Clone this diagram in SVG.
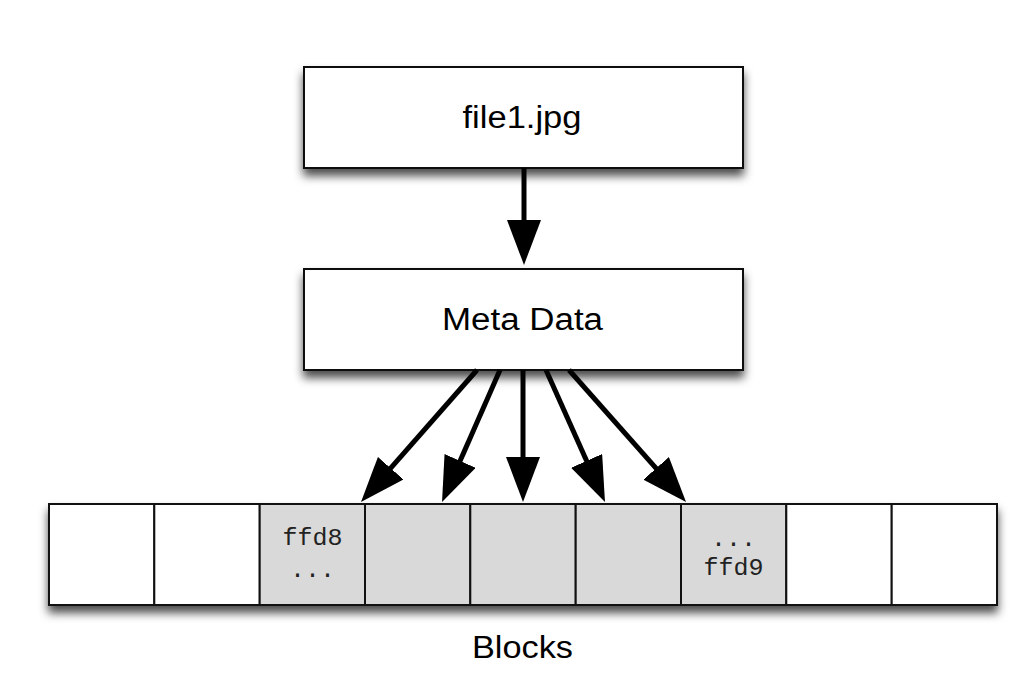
<svg xmlns="http://www.w3.org/2000/svg" width="1036" height="678" viewBox="0 0 1036 678">
<style>
.box{fill:#fff;stroke:#111;stroke-width:2}
.cell{fill:#fff;stroke:#111;stroke-width:2}
.gray{fill:#d9d9d9}
.lbl{font-family:"Liberation Sans",Arial,sans-serif;font-size:31px;fill:#000;text-anchor:middle}
.mono{font-family:"Liberation Mono","Courier New",monospace;font-size:24px;fill:#222;text-anchor:middle}
.arr{stroke:#000;stroke-width:5;fill:none;marker-end:url(#head)}
</style>
<defs>
<filter id="sh" x="-5%" y="-20%" width="110%" height="160%">
<feDropShadow dx="0" dy="7" stdDeviation="5" flood-color="#000" flood-opacity="0.7"/>
</filter>
<marker id="head" markerUnits="userSpaceOnUse" viewBox="0 0 45 34" markerWidth="45" markerHeight="34" refX="10" refY="17" orient="auto">
<path d="M0,0 L45,17 L0,34 z" fill="#000"/>
</marker>
</defs>
<rect width="1036" height="678" fill="#fff"/>
<g id="file1">
<rect class="box" x="304" y="67" width="439" height="101" filter="url(#sh)"/>
<text class="lbl" x="522" y="128" textLength="119" lengthAdjust="spacingAndGlyphs">file1.jpg</text>
</g>
<g id="metadata">
<rect class="box" x="304" y="269" width="439" height="101" filter="url(#sh)"/>
<text class="lbl" x="522.5" y="330" textLength="161" lengthAdjust="spacingAndGlyphs">Meta Data</text>
</g>
<g id="blocks">
<rect x="49" y="504" width="948" height="101" fill="#fff" stroke="#111" stroke-width="2" filter="url(#sh)"/>
<rect class="cell" x="49" y="504" width="105.3" height="101"/>
<rect class="cell" x="154.3" y="504" width="105.4" height="101"/>
<rect class="cell gray" x="259.7" y="504" width="105.3" height="101"/>
<rect class="cell gray" x="365" y="504" width="105.3" height="101"/>
<rect class="cell gray" x="470.3" y="504" width="105.4" height="101"/>
<rect class="cell gray" x="575.7" y="504" width="105.3" height="101"/>
<rect class="cell gray" x="681" y="504" width="105.3" height="101"/>
<rect class="cell" x="786.3" y="504" width="105.4" height="101"/>
<rect class="cell" x="891.7" y="504" width="105.3" height="101"/>
<text class="mono" x="312.5" y="545" textLength="60" lengthAdjust="spacingAndGlyphs">ffd8</text>
<text class="mono" x="312.5" y="577" textLength="45" lengthAdjust="spacingAndGlyphs">...</text>
<text class="mono" x="733.5" y="546" textLength="45" lengthAdjust="spacingAndGlyphs">...</text>
<text class="mono" x="733.5" y="575" textLength="60" lengthAdjust="spacingAndGlyphs">ffd9</text>
<text class="lbl" x="522.5" y="658" textLength="101" lengthAdjust="spacingAndGlyphs">Blocks</text>
</g>
<g id="connectors">
<line class="arr" x1="524" y1="168" x2="524" y2="230"/>
<line class="arr" x1="477" y1="370" x2="384.1" y2="475.7"/>
<line class="arr" x1="500" y1="370" x2="456.1" y2="470"/>
<line class="arr" x1="523" y1="370" x2="523" y2="467"/>
<line class="arr" x1="546" y1="370" x2="590.7" y2="470"/>
<line class="arr" x1="569" y1="370" x2="662.8" y2="475.8"/>
</g>
</svg>
